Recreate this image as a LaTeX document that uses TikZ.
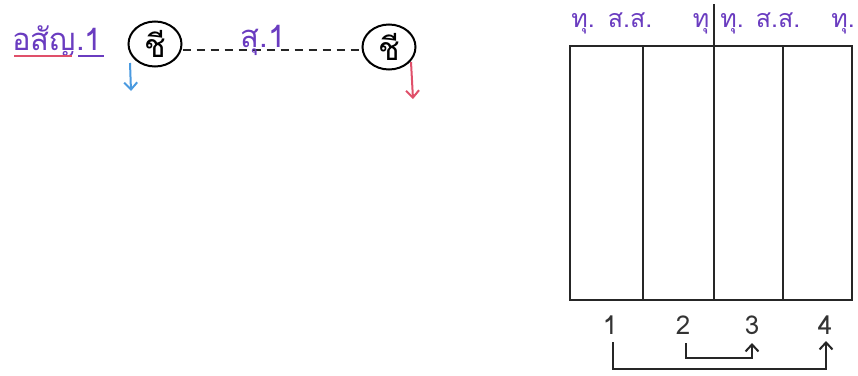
\documentclass[tikz,border=0pt]{standalone}
\usepackage{fontspec}
\newfontfamily\thaifont[Script=Thai]{Loma}
\usetikzlibrary{arrows.meta,shapes.geometric}
\definecolor{ink}{HTML}{6A3CC0}
\definecolor{redink}{HTML}{E0506A}
\definecolor{blueink}{HTML}{4A9AE0}
\begin{document}
\begin{tikzpicture}[x=1pt,y=-1pt,
  lbl/.style={font=\thaifont\fontsize{31}{33}\selectfont, text=ink, inner sep=0pt},
  toplbl/.style={font=\thaifont\fontsize{25}{27}\selectfont, text=ink, inner sep=0pt},
  num/.style={font=\thaifont\fontsize{26}{28}\selectfont, text=black!80, inner sep=0pt},
  circ/.style={ellipse, draw, line width=2pt, minimum width=53pt, minimum height=45pt, inner sep=0pt, font=\thaifont\fontsize{32}{34}\selectfont},
  pen/.style={line width=2pt, black!85},
  arr/.style={line width=2pt, -{Straight Barb[length=7pt,width=13pt]}}]
\useasboundingbox (0,0) rectangle (858,375);
% left part
\node[lbl, anchor=base west] (title) at (12,50) {อสัญ.1};
\coordinate (ul1) at (14,56); \coordinate (ul2) at (72,56);
\coordinate (ul3) at (78,56); \coordinate (ul4) at (104,56);
\draw[redink, line width=2pt] (ul1) -- (ul2);
\draw[ink, line width=2pt] (ul3) -- (ul4);
\node[circ] (c1) at (155,44) {ชี};
\node[circ] (c2) at (389,47) {ชี};
\draw[pen, dash pattern=on 8pt off 6pt] (c1.east |- 0,50) -- (c2.west |- 0,50);
\node[lbl, anchor=base] (s1) at (263,47) {สุ.1};
\coordinate (b1) at (130,63); \coordinate (b2) at (131,91);
\draw[arr, blueink] (b1) -- (b2);
\coordinate (r1) at (411,62); \coordinate (r2) at (413,99);
\draw[arr, redink] (r1) -- (r2);
% box
\coordinate (bx1) at (570,46); \coordinate (bx2) at (852,300);
\draw[pen] (bx1) rectangle (bx2);
\coordinate (v1t) at (643,46); \coordinate (v1b) at (643,300);
\coordinate (v2t) at (714,4); \coordinate (v2b) at (714,300);
\coordinate (v3t) at (783,46); \coordinate (v3b) at (783,300);
\draw[pen] (v1t) -- (v1b);
\draw[pen] (v2t) -- (v2b);
\draw[pen] (v3t) -- (v3b);
% top labels
\node[toplbl, anchor=base] (t1) at (583,27) {ทุ.};
\node[toplbl, anchor=base] (t2) at (630,27) {ส.ส.};
\node[toplbl, anchor=base] (t3) at (701,27) {ทุ};
\node[toplbl, anchor=base] (t4) at (732,27) {ทุ.};
\node[toplbl, anchor=base] (t5) at (778,27) {ส.ส.};
\node[toplbl, anchor=base] (t6) at (843,27) {ทุ.};
% numbers
\node[num, anchor=base] (n1) at (610,334) {1};
\node[num, anchor=base] (n2) at (683,334) {2};
\node[num, anchor=base] (n3) at (752,334) {3};
\node[num, anchor=base] (n4) at (825,334) {4};
\coordinate (p1) at (613,342); \coordinate (p2) at (613,369); \coordinate (p3) at (826,369);
\coordinate (p4) at (826,341);
\draw[pen, arr] (p1) -- (p2) -- (p3) -- (p4);
\coordinate (q1) at (686,343); \coordinate (q2) at (686,358); \coordinate (q3) at (752,358);
\coordinate (q4) at (752,343);
\draw[pen, arr] (q1) -- (q2) -- (q3) -- (q4);
\end{tikzpicture}
\end{document}
